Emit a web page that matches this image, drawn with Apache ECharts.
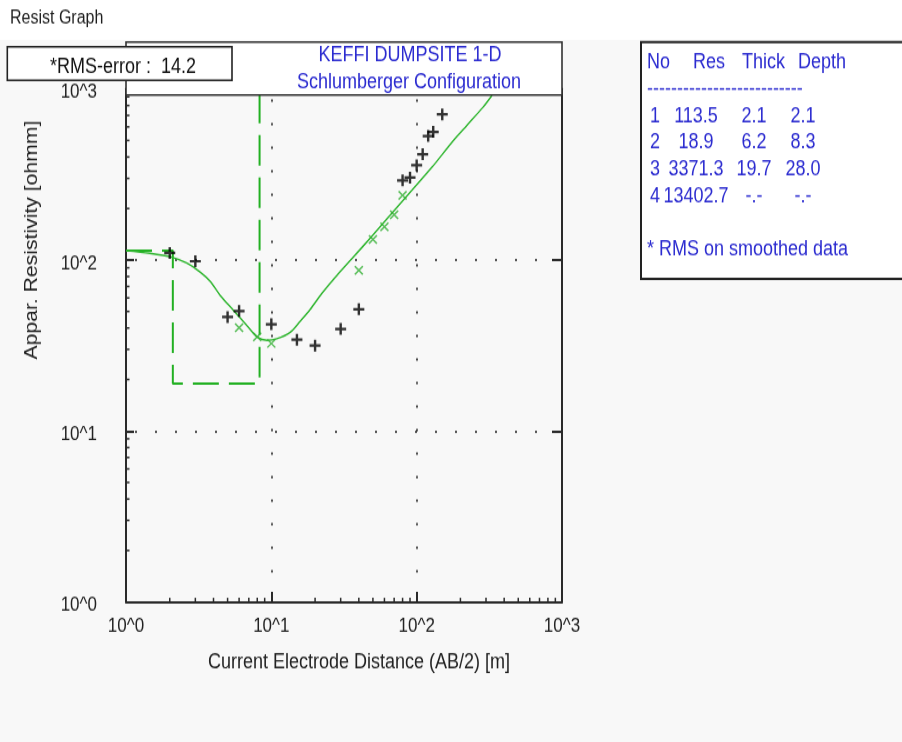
<!DOCTYPE html>
<html><head><meta charset="utf-8">
<script src="https://cdn.jsdelivr.net/npm/echarts@6/dist/echarts.min.js"></script>
<style>
html{margin:0;padding:0;background:#fff;overflow:hidden;}
body{margin:0;padding:0;background:#fff;width:902px;height:742px;}
#chart{width:902px;height:631px;transform:scaleY(1.1766);transform-origin:0 0;}
</style></head><body><div id="chart"></div>
<script>
// ---- data ----
const xTickLabels = ['10^0', '10^1', '10^2', '10^3'];
const yTickLabels = ['10^0', '10^1', '10^2', '10^3'];
// field data (black +)
const fieldAB2 = [2, 3, 5, 6, 10, 15, 20, 30, 40, 80, 90, 100, 110, 120, 130, 150];
const fieldRho = [110, 98.3, 46.4, 50.3, 42.1, 34.2, 31.6, 39.5, 51.5, 292, 303, 358, 415, 531, 561, 711];
// smoothed data (green x)
const smoothAB2 = [6, 8, 10, 40, 50, 60, 70, 80];
const smoothRho = [40.2, 35.5, 32.5, 87.1, 131.6, 156, 184, 239];
// model response curve (green solid)
const curveAB2 = [1, 1.46, 2.07, 2.63, 3.23, 3.79, 4.44, 5.48, 6.77, 8.04, 9.34, 10.9, 13.5, 15.8, 18.5, 22.3, 28.3, 35.9, 48.6, 67.7, 93, 128, 178, 222, 286, 330];
const curveRho = [113.2, 109.4, 103.7, 95.7, 85.1, 75.1, 62.2, 50.8, 41.5, 35.3, 33.9, 34.6, 37.8, 43.8, 51.3, 63.9, 81.4, 102, 136, 188, 256, 350, 497, 614, 782, 919];
// layer model
const layerNo = [1, 2, 3, 4];
const layerRes = [113.5, 18.9, 3371.3, 13402.7];
const layerThick = [2.1, 6.2, 19.7, null];
const layerDepth = [2.1, 8.3, 28.0, null];
const rmsError = 14.2;
const titleLines = ['KEFFI DUMPSITE 1-D', 'Schlumberger Configuration'];
const tableHeader = ['No', 'Res', 'Thick', 'Depth'];

// ---- layout / style ----
const FONT = "'Liberation Sans', Arial, sans-serif";
const BLUE = '#2b2bd0';
const AX = '#2a2a2a';
const headerX = [647, 693, 742, 798];
const colCenter = [696, 754, 803];
const rowY = [98.6, 121.5, 143.6, 166.6];

const fmt = v => (v == null ? '-.-' : v.toFixed(1));

const modelPts = [];
let xs = 1;
for (let i = 0; i < layerRes.length; i++) {
  const xe = layerDepth[i] != null ? layerDepth[i] : 1000;
  modelPts.push([xs, layerRes[i]], [xe, layerRes[i]]);
  xs = xe;
}

const minorFactors = [2, 3, 4, 5, 6, 7, 8, 9];
const decades = [1, 10, 100];
const minorVals = [];
decades.forEach(d => minorFactors.forEach(f => minorVals.push(f * d)));

const txt = (x, y, text, o = {}) => ({
  type: 'text', x, y, z: o.z || 120, rotation: o.rotation || 0,
  style: { text, fontSize: o.size || 18, fontFamily: FONT, fill: o.color || '#1e1e1e',
           align: o.align || 'left', verticalAlign: 'middle' }
});

const graphics = [
  { type: 'rect', z: -10, shape: { x: 0, y: 34, width: 902, height: 600 }, style: { fill: '#f8f8f8' } },
  txt(10, 15.3, 'Resist Graph', { size: 16 }),
  // title box
  { type: 'rect', z: 100, shape: { x: 126, y: 35.7, width: 436, height: 45 }, style: { fill: '#fff', stroke: '#333', lineWidth: 1.6 } },
  txt(410, 47.3, titleLines[0], { color: BLUE, align: 'center' }),
  txt(409, 70.1, titleLines[1], { color: BLUE, align: 'center' }),
  // rms box
  { type: 'rect', z: 130, shape: { x: 7.3, y: 39.7, width: 224.7, height: 28.6 }, style: { fill: '#fff', stroke: '#222', lineWidth: 1.6 } },
  txt(123, 56.8, '*RMS-error :  ' + rmsError.toFixed(1), { align: 'center', z: 140, color: '#111' }),
  // legend box
  { type: 'rect', z: 100, shape: { x: 641, y: 35.7, width: 270, height: 201.4 }, style: { fill: '#fff', stroke: '#222', lineWidth: 2 } },
  txt(647, 75.6, '--------------------------', { color: BLUE }),
  txt(647, 211.6, '* RMS on smoothed data', { color: BLUE }),
  // axis names
  txt(359, 562.6, 'Current Electrode Distance (AB/2) [m]', { align: 'center', color: '#222' }),
  txt(32, 204, 'Appar. Resistivity [ohmm]', { align: 'center', color: '#222', rotation: Math.PI / 2 })
];
tableHeader.forEach((h, i) => graphics.push(txt(headerX[i], 52.7, h, { color: BLUE })));
layerNo.forEach((n, i) => {
  graphics.push(txt(650, rowY[i], String(n), { color: BLUE }));
  graphics.push(txt(colCenter[0], rowY[i], fmt(layerRes[i]), { color: BLUE, align: 'center' }));
  graphics.push(txt(colCenter[1], rowY[i], fmt(layerThick[i]), { color: BLUE, align: 'center' }));
  graphics.push(txt(colCenter[2], rowY[i], fmt(layerDepth[i]), { color: BLUE, align: 'center' }));
});

const logLabel = arr => v => arr[Math.round(Math.log10(v))];
const dotted = { show: true, lineStyle: { color: '#222', width: 1.6, type: [2, 18], dashOffset: 11 } };

const chart = echarts.init(document.getElementById('chart'), null, { renderer: 'canvas' });
chart.setOption({
  animation: false,
  backgroundColor: '#fff',
  grid: { left: 126, top: 75.6, width: 436, height: 436, containLabel: false },
  xAxis: [{
    type: 'log', logBase: 10, min: 1, max: 1000, position: 'bottom',
    axisLine: { show: true, lineStyle: { color: AX, width: 2 } },
    axisTick: { show: true, inside: true, length: 8.5, lineStyle: { color: AX, width: 2 } },
    axisLabel: { formatter: logLabel(xTickLabels), fontSize: 17, fontFamily: FONT, color: '#222', margin: 12, showMinLabel: true, showMaxLabel: true },
    splitLine: dotted
  }],
  yAxis: [{
    type: 'log', logBase: 10, min: 1, max: 1000, position: 'left',
    axisLine: { show: true, lineStyle: { color: AX, width: 2 } },
    axisTick: { show: true, inside: true, length: 8, lineStyle: { color: AX, width: 2 } },
    axisLabel: {
      formatter: v => '{t|' + logLabel(yTickLabels)(v) + '}',
      rich: { t: { fontSize: 17, fontFamily: FONT, color: '#222', padding: [6, 0, 0, 0] } },
      fontSize: 17, fontFamily: FONT, color: '#222', margin: 29, showMinLabel: true, showMaxLabel: true },
    splitLine: dotted
  }, {
    type: 'log', logBase: 10, min: 1, max: 1000, position: 'right',
    axisLine: { show: true, lineStyle: { color: AX, width: 2 } },
    axisTick: { show: true, inside: true, length: 10, lineStyle: { color: AX, width: 2 } },
    axisLabel: { show: false }, splitLine: { show: false }
  }],
  graphic: { elements: graphics },
  series: [
    { type: 'line', data: modelPts, symbol: 'none', clip: true, z: 3,
      lineStyle: { color: '#22b022', width: 2, type: [26, 10] } },
    { type: 'line', data: curveAB2.map((x, i) => [x, curveRho[i]]), symbol: 'none', clip: true, z: 4, smooth: 0.3,
      lineStyle: { color: '#2db52d', width: 1.4 } },
    { type: 'scatter', data: smoothAB2.map((x, i) => [x, smoothRho[i]]), z: 5,
      symbol: 'path://M0,0L10,10M10,0L0,10', symbolSize: [8, 7],
      itemStyle: { color: '#33b033', borderColor: '#33b033', borderWidth: 1.5 } },
    { type: 'scatter', data: fieldAB2.map((x, i) => [x, fieldRho[i]]), z: 6,
      symbol: 'path://M0,5L10,5M5,0L5,10', symbolSize: [11, 10],
      itemStyle: { color: '#000', borderColor: '#000', borderWidth: 2.3 } },
    { type: 'custom', silent: true, z: 7, data: minorVals.map(v => [v, 1]),
      renderItem: (p, api) => { const c = api.coord([api.value(0), api.value(1)]);
        return { type: 'line', shape: { x1: c[0], y1: c[1], x2: c[0], y2: c[1] - 3.5 }, style: { stroke: AX, lineWidth: 1.5 } }; } },
    { type: 'custom', silent: true, z: 7, data: minorVals.map(v => [1, v]),
      renderItem: (p, api) => { const c = api.coord([api.value(0), api.value(1)]);
        return { type: 'line', shape: { x1: c[0], y1: c[1], x2: c[0] + 3.5, y2: c[1] }, style: { stroke: AX, lineWidth: 1.5 } }; } }
  ]
});
</script></body></html>
